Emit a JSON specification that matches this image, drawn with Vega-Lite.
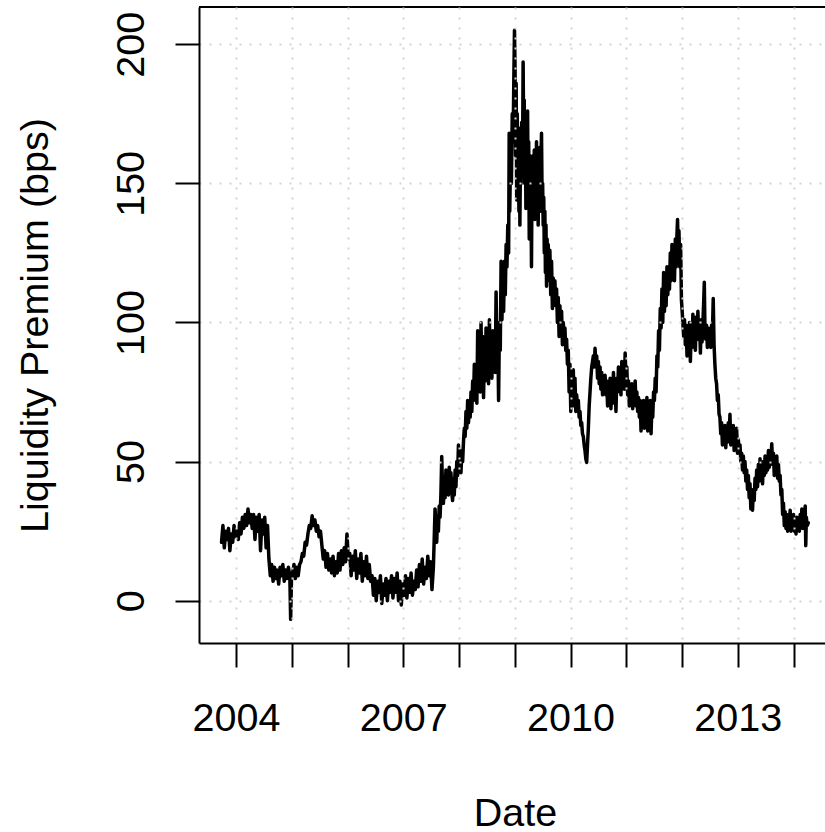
{
  "$schema": "https://vega.github.io/schema/vega-lite/v6.json",
  "width": 626,
  "height": 636,
  "autosize": "none",
  "padding": {"left": 199, "top": 7, "right": 0, "bottom": 189},
  "background": "white",
  "config": {"font": "Liberation Sans", "view": {"stroke": null}},
  "data": {"values": [
    {"t":2003.740,"v":21},{"t":2003.765,"v":27},{"t":2003.790,"v":19},{"t":2003.815,"v":25},{"t":2003.840,"v":22},{"t":2003.865,"v":26},{"t":2003.890,"v":18},{"t":2003.915,"v":24},{"t":2003.940,"v":21},{"t":2003.965,"v":27},{"t":2003.990,"v":23},
    {"t":2004.015,"v":25},{"t":2004.040,"v":22},{"t":2004.065,"v":28},{"t":2004.090,"v":24},{"t":2004.115,"v":30},{"t":2004.140,"v":26},{"t":2004.165,"v":31},{"t":2004.190,"v":27},{"t":2004.215,"v":33},{"t":2004.240,"v":28},{"t":2004.265,"v":31},
    {"t":2004.290,"v":26},{"t":2004.315,"v":31},{"t":2004.340,"v":22},{"t":2004.365,"v":30},{"t":2004.390,"v":25},{"t":2004.415,"v":31},{"t":2004.440,"v":18},{"t":2004.465,"v":29},{"t":2004.490,"v":24},{"t":2004.515,"v":30},{"t":2004.540,"v":19},{"t":2004.565,"v":27},
    {"t":2004.590,"v":15},{"t":2004.615,"v":9},{"t":2004.640,"v":13},{"t":2004.665,"v":7},{"t":2004.690,"v":12},{"t":2004.715,"v":8},{"t":2004.740,"v":11},{"t":2004.765,"v":6},{"t":2004.790,"v":12},{"t":2004.815,"v":9},{"t":2004.840,"v":13},{"t":2004.865,"v":7},{"t":2004.890,"v":11},{"t":2004.915,"v":8},{"t":2004.940,"v":12},{"t":2004.965,"v":9},{"t":2004.980,"v":-6.7},{"t":2004.995,"v":8},
    {"t":2005.015,"v":10},{"t":2005.040,"v":13},{"t":2005.065,"v":8},{"t":2005.090,"v":12},{"t":2005.115,"v":9},{"t":2005.140,"v":13},
    {"t":2005.165,"v":14},{"t":2005.190,"v":17},{"t":2005.215,"v":16},{"t":2005.240,"v":21},{"t":2005.265,"v":20},{"t":2005.290,"v":24},{"t":2005.315,"v":27},{"t":2005.340,"v":26},{"t":2005.365,"v":30.5},
    {"t":2005.390,"v":27},{"t":2005.415,"v":29},{"t":2005.440,"v":25},{"t":2005.465,"v":27},{"t":2005.490,"v":23},{"t":2005.515,"v":25},
    {"t":2005.540,"v":20},{"t":2005.565,"v":15},{"t":2005.590,"v":18},{"t":2005.615,"v":12},{"t":2005.640,"v":17},{"t":2005.665,"v":11},{"t":2005.690,"v":15},{"t":2005.715,"v":10},{"t":2005.740,"v":16},{"t":2005.765,"v":9},{"t":2005.790,"v":14},{"t":2005.815,"v":10},
    {"t":2005.840,"v":17},{"t":2005.865,"v":11},{"t":2005.890,"v":18},{"t":2005.915,"v":13},{"t":2005.940,"v":19},{"t":2005.965,"v":14},{"t":2005.990,"v":24},{"t":2006.015,"v":15},
    {"t":2006.040,"v":17},{"t":2006.065,"v":9},{"t":2006.090,"v":16},{"t":2006.115,"v":11},{"t":2006.140,"v":18},{"t":2006.165,"v":8},{"t":2006.190,"v":15},{"t":2006.215,"v":10},{"t":2006.240,"v":17},{"t":2006.265,"v":7},{"t":2006.290,"v":14},{"t":2006.315,"v":9},{"t":2006.340,"v":16},{"t":2006.365,"v":8},{"t":2006.390,"v":13},{"t":2006.415,"v":7},
    {"t":2006.440,"v":9},{"t":2006.465,"v":2},{"t":2006.490,"v":8},{"t":2006.515,"v":0},{"t":2006.540,"v":7},{"t":2006.565,"v":3},{"t":2006.590,"v":9},{"t":2006.615,"v":-1},{"t":2006.640,"v":6},{"t":2006.665,"v":2},{"t":2006.690,"v":8},{"t":2006.715,"v":0},{"t":2006.740,"v":7},{"t":2006.765,"v":3},{"t":2006.790,"v":9},
    {"t":2006.815,"v":1},{"t":2006.840,"v":8},{"t":2006.865,"v":3},{"t":2006.890,"v":10},{"t":2006.915,"v":0},{"t":2006.940,"v":7},{"t":2006.965,"v":-1.5},{"t":2006.990,"v":6},{"t":2007.015,"v":2},{"t":2007.040,"v":9},{"t":2007.065,"v":1},{"t":2007.090,"v":8},{"t":2007.115,"v":3},{"t":2007.140,"v":10},{"t":2007.165,"v":2},{"t":2007.190,"v":7},
    {"t":2007.215,"v":4},{"t":2007.240,"v":11},{"t":2007.265,"v":5},{"t":2007.290,"v":13},{"t":2007.315,"v":7},{"t":2007.340,"v":15},{"t":2007.365,"v":6},{"t":2007.390,"v":12},{"t":2007.415,"v":8},{"t":2007.440,"v":16},{"t":2007.465,"v":9},{"t":2007.490,"v":14},{"t":2007.515,"v":4},{"t":2007.540,"v":12},
    {"t":2007.555,"v":22},{"t":2007.570,"v":33},{"t":2007.585,"v":28},{"t":2007.600,"v":21},{"t":2007.615,"v":30},{"t":2007.630,"v":25},{"t":2007.645,"v":34},{"t":2007.660,"v":30},{"t":2007.675,"v":38},{"t":2007.690,"v":51.8},{"t":2007.705,"v":40},{"t":2007.720,"v":35},{"t":2007.735,"v":42},{"t":2007.750,"v":37},{"t":2007.765,"v":47},{"t":2007.780,"v":40},{"t":2007.795,"v":45},{"t":2007.810,"v":38},{"t":2007.825,"v":48},{"t":2007.840,"v":42},{"t":2007.855,"v":46},{"t":2007.870,"v":39},
    {"t":2007.885,"v":36},{"t":2007.900,"v":44},{"t":2007.915,"v":38},{"t":2007.930,"v":47},{"t":2007.945,"v":41},{"t":2007.960,"v":50},{"t":2007.975,"v":45},{"t":2007.990,"v":56},{"t":2008.005,"v":48},{"t":2008.020,"v":54},{"t":2008.035,"v":46},{"t":2008.050,"v":53},{"t":2008.065,"v":50},{"t":2008.080,"v":57},{"t":2008.095,"v":62},{"t":2008.110,"v":59},{"t":2008.125,"v":68},{"t":2008.140,"v":62},{"t":2008.155,"v":72},{"t":2008.170,"v":64},{"t":2008.185,"v":70},{"t":2008.200,"v":66},{"t":2008.215,"v":75},{"t":2008.230,"v":68},{"t":2008.245,"v":79},{"t":2008.260,"v":72},{"t":2008.275,"v":85},{"t":2008.290,"v":74},{"t":2008.305,"v":82},{"t":2008.320,"v":71},{"t":2008.335,"v":97},{"t":2008.350,"v":78},{"t":2008.365,"v":88},{"t":2008.380,"v":75},{"t":2008.395,"v":100},{"t":2008.410,"v":80},{"t":2008.425,"v":95},{"t":2008.440,"v":73},{"t":2008.455,"v":90},{"t":2008.470,"v":79},{"t":2008.485,"v":98},{"t":2008.500,"v":82},{"t":2008.515,"v":96},{"t":2008.530,"v":78},{"t":2008.545,"v":101},{"t":2008.560,"v":84},{"t":2008.575,"v":92},{"t":2008.590,"v":80},{"t":2008.605,"v":97},{"t":2008.620,"v":85},{"t":2008.635,"v":94},{"t":2008.650,"v":82},{"t":2008.665,"v":111},{"t":2008.680,"v":88},{"t":2008.695,"v":96},{"t":2008.710,"v":72},{"t":2008.725,"v":100},{"t":2008.740,"v":90},{"t":2008.755,"v":122},{"t":2008.770,"v":101},{"t":2008.785,"v":118},{"t":2008.800,"v":104},{"t":2008.815,"v":122},{"t":2008.830,"v":110},{"t":2008.845,"v":128},{"t":2008.860,"v":120},{"t":2008.875,"v":135},{"t":2008.890,"v":125},{"t":2008.900,"v":168},{"t":2008.910,"v":140},{"t":2008.925,"v":160},{"t":2008.940,"v":150},{"t":2008.955,"v":175},{"t":2008.970,"v":165},{"t":2008.985,"v":190},{"t":2008.995,"v":205},
    {"t":2009.005,"v":192},{"t":2009.015,"v":160},{"t":2009.025,"v":186},{"t":2009.035,"v":144},{"t":2009.045,"v":175},{"t":2009.055,"v":150},{"t":2009.065,"v":170},{"t":2009.075,"v":140},{"t":2009.085,"v":158},{"t":2009.092,"v":135},{"t":2009.105,"v":165},{"t":2009.115,"v":150},{"t":2009.125,"v":172},{"t":2009.140,"v":160},{"t":2009.150,"v":193.6},{"t":2009.160,"v":165},{"t":2009.170,"v":180},{"t":2009.180,"v":150},{"t":2009.190,"v":172},{"t":2009.200,"v":141},{"t":2009.210,"v":168},{"t":2009.220,"v":148},{"t":2009.230,"v":176},{"t":2009.240,"v":145},{"t":2009.250,"v":165},{"t":2009.260,"v":130},{"t":2009.270,"v":160},{"t":2009.280,"v":142},{"t":2009.290,"v":150},{"t":2009.300,"v":120},{"t":2009.310,"v":155},{"t":2009.320,"v":138},{"t":2009.330,"v":160},{"t":2009.340,"v":140},{"t":2009.350,"v":162},{"t":2009.360,"v":137},{"t":2009.370,"v":158},{"t":2009.380,"v":145},{"t":2009.390,"v":165},{"t":2009.400,"v":140},{"t":2009.410,"v":155},{"t":2009.420,"v":135},{"t":2009.430,"v":160},{"t":2009.440,"v":148},{"t":2009.450,"v":163},{"t":2009.460,"v":140},{"t":2009.470,"v":158},{"t":2009.480,"v":168},{"t":2009.490,"v":145},{"t":2009.500,"v":150},{"t":2009.510,"v":135},{"t":2009.520,"v":145},{"t":2009.530,"v":125},{"t":2009.540,"v":140},{"t":2009.550,"v":118},{"t":2009.560,"v":135},{"t":2009.570,"v":113},{"t":2009.580,"v":130},{"t":2009.590,"v":115},{"t":2009.600,"v":128},{"t":2009.615,"v":118},{"t":2009.630,"v":126},{"t":2009.645,"v":110},{"t":2009.660,"v":122},{"t":2009.675,"v":105},{"t":2009.690,"v":116},{"t":2009.705,"v":108},{"t":2009.720,"v":115},{"t":2009.735,"v":106},{"t":2009.750,"v":112},{"t":2009.765,"v":100},{"t":2009.780,"v":109},{"t":2009.795,"v":95},{"t":2009.810,"v":106},{"t":2009.825,"v":96},{"t":2009.840,"v":104},{"t":2009.855,"v":92},{"t":2009.870,"v":100},{"t":2009.885,"v":95},{"t":2009.900,"v":98},{"t":2009.915,"v":90},{"t":2009.930,"v":94},{"t":2009.945,"v":85},{"t":2009.960,"v":90},{"t":2009.975,"v":75},{"t":2009.990,"v":85},
    {"t":2010.005,"v":68},{"t":2010.020,"v":80},{"t":2010.035,"v":72},{"t":2010.050,"v":83},{"t":2010.065,"v":70},{"t":2010.080,"v":80},{"t":2010.095,"v":68},{"t":2010.110,"v":74},{"t":2010.125,"v":70},{"t":2010.140,"v":72},{"t":2010.155,"v":66},{"t":2010.170,"v":68},{"t":2010.185,"v":63},{"t":2010.200,"v":64},{"t":2010.215,"v":60},{"t":2010.230,"v":59},{"t":2010.245,"v":56},{"t":2010.260,"v":54},{"t":2010.275,"v":51},{"t":2010.290,"v":49.7},{"t":2010.305,"v":56},{"t":2010.320,"v":62},{"t":2010.335,"v":70},{"t":2010.350,"v":75},{"t":2010.365,"v":80},{"t":2010.380,"v":84},{"t":2010.395,"v":86},{"t":2010.410,"v":88},{"t":2010.425,"v":84},{"t":2010.440,"v":90.7},{"t":2010.455,"v":85},{"t":2010.470,"v":88},{"t":2010.485,"v":80},{"t":2010.500,"v":86},{"t":2010.515,"v":78},{"t":2010.530,"v":84},{"t":2010.545,"v":76},{"t":2010.560,"v":82},{"t":2010.575,"v":74},{"t":2010.590,"v":80},{"t":2010.605,"v":76},{"t":2010.620,"v":81},{"t":2010.635,"v":74},{"t":2010.650,"v":79},{"t":2010.665,"v":70},{"t":2010.680,"v":78},{"t":2010.695,"v":72},{"t":2010.710,"v":80},{"t":2010.725,"v":69},{"t":2010.740,"v":76},{"t":2010.755,"v":71},{"t":2010.770,"v":82},{"t":2010.785,"v":73},{"t":2010.800,"v":78},{"t":2010.815,"v":68},{"t":2010.830,"v":80},{"t":2010.845,"v":75},{"t":2010.860,"v":84},{"t":2010.875,"v":76},{"t":2010.890,"v":82},{"t":2010.905,"v":74},{"t":2010.920,"v":86},{"t":2010.935,"v":78},{"t":2010.950,"v":84},{"t":2010.965,"v":76},{"t":2010.980,"v":89},{"t":2010.995,"v":80},
    {"t":2011.010,"v":84},{"t":2011.025,"v":74},{"t":2011.040,"v":79},{"t":2011.055,"v":70},{"t":2011.070,"v":77},{"t":2011.085,"v":72},{"t":2011.100,"v":78},{"t":2011.115,"v":69},{"t":2011.130,"v":76},{"t":2011.145,"v":71},{"t":2011.160,"v":79},{"t":2011.175,"v":70},{"t":2011.190,"v":75},{"t":2011.205,"v":68},{"t":2011.220,"v":73},{"t":2011.235,"v":66},{"t":2011.250,"v":72},{"t":2011.265,"v":61},{"t":2011.280,"v":70},{"t":2011.295,"v":64},{"t":2011.310,"v":72},{"t":2011.325,"v":62},{"t":2011.340,"v":68},{"t":2011.355,"v":63},{"t":2011.370,"v":73},{"t":2011.385,"v":61},{"t":2011.400,"v":70},{"t":2011.415,"v":65},{"t":2011.430,"v":72},{"t":2011.445,"v":60},{"t":2011.460,"v":70},{"t":2011.475,"v":66},{"t":2011.490,"v":75},{"t":2011.505,"v":72},{"t":2011.520,"v":80},{"t":2011.535,"v":75},{"t":2011.550,"v":88},{"t":2011.565,"v":84},{"t":2011.580,"v":97},{"t":2011.595,"v":90},{"t":2011.610,"v":105},{"t":2011.625,"v":98},{"t":2011.640,"v":112},{"t":2011.655,"v":100},{"t":2011.670,"v":118},{"t":2011.685,"v":104},{"t":2011.700,"v":115},{"t":2011.715,"v":106},{"t":2011.730,"v":120},{"t":2011.745,"v":110},{"t":2011.760,"v":118},{"t":2011.775,"v":112},{"t":2011.790,"v":125},{"t":2011.805,"v":115},{"t":2011.820,"v":128},{"t":2011.835,"v":118},{"t":2011.850,"v":126},{"t":2011.865,"v":115},{"t":2011.880,"v":130},{"t":2011.895,"v":120},{"t":2011.910,"v":132},{"t":2011.920,"v":137},{"t":2011.930,"v":128},{"t":2011.945,"v":133},{"t":2011.960,"v":120},{"t":2011.975,"v":128},{"t":2011.990,"v":108},
    {"t":2012.000,"v":105},{"t":2012.015,"v":100},{"t":2012.030,"v":95},{"t":2012.045,"v":101},{"t":2012.060,"v":92},{"t":2012.075,"v":99},{"t":2012.090,"v":88},{"t":2012.105,"v":98},{"t":2012.120,"v":92},{"t":2012.135,"v":100},{"t":2012.150,"v":86},{"t":2012.165,"v":97},{"t":2012.180,"v":91},{"t":2012.195,"v":103},{"t":2012.210,"v":92},{"t":2012.225,"v":99},{"t":2012.240,"v":90},{"t":2012.255,"v":102},{"t":2012.270,"v":94},{"t":2012.285,"v":104},{"t":2012.300,"v":95},{"t":2012.315,"v":100},{"t":2012.330,"v":89},{"t":2012.345,"v":101},{"t":2012.360,"v":93},{"t":2012.375,"v":100},{"t":2012.390,"v":108},{"t":2012.400,"v":114.5},{"t":2012.410,"v":100},{"t":2012.425,"v":94},{"t":2012.440,"v":99},{"t":2012.455,"v":91},{"t":2012.470,"v":98},{"t":2012.485,"v":92},{"t":2012.500,"v":97},{"t":2012.515,"v":91},{"t":2012.530,"v":99},{"t":2012.545,"v":95},{"t":2012.560,"v":108.6},{"t":2012.575,"v":92},{"t":2012.590,"v":85},{"t":2012.605,"v":80},{"t":2012.620,"v":78},{"t":2012.635,"v":72},{"t":2012.650,"v":74},{"t":2012.665,"v":67},{"t":2012.680,"v":66},{"t":2012.695,"v":60},{"t":2012.710,"v":64},{"t":2012.725,"v":56},{"t":2012.740,"v":62},{"t":2012.755,"v":57},{"t":2012.770,"v":63},{"t":2012.785,"v":55},{"t":2012.800,"v":61},{"t":2012.815,"v":57},{"t":2012.830,"v":64},{"t":2012.845,"v":58},{"t":2012.860,"v":67},{"t":2012.875,"v":56},{"t":2012.890,"v":62},{"t":2012.905,"v":57},{"t":2012.920,"v":63},{"t":2012.935,"v":54},{"t":2012.950,"v":60},{"t":2012.965,"v":55},{"t":2012.980,"v":62},{"t":2012.995,"v":53},
    {"t":2013.010,"v":58},{"t":2013.025,"v":54},{"t":2013.040,"v":56},{"t":2013.055,"v":50},{"t":2013.070,"v":53},{"t":2013.085,"v":47},{"t":2013.100,"v":52},{"t":2013.115,"v":46},{"t":2013.130,"v":50},{"t":2013.145,"v":43},{"t":2013.160,"v":47},{"t":2013.175,"v":40},{"t":2013.190,"v":45},{"t":2013.205,"v":37},{"t":2013.220,"v":42},{"t":2013.235,"v":33},{"t":2013.250,"v":39},{"t":2013.265,"v":32.5},{"t":2013.280,"v":40},{"t":2013.295,"v":36},{"t":2013.310,"v":44},{"t":2013.325,"v":40},{"t":2013.340,"v":47},{"t":2013.355,"v":41},{"t":2013.370,"v":49},{"t":2013.385,"v":43},{"t":2013.400,"v":51},{"t":2013.415,"v":44},{"t":2013.430,"v":49},{"t":2013.445,"v":42},{"t":2013.460,"v":50},{"t":2013.475,"v":45},{"t":2013.490,"v":52},{"t":2013.505,"v":46},{"t":2013.520,"v":50},{"t":2013.535,"v":47},{"t":2013.550,"v":54},{"t":2013.565,"v":48},{"t":2013.580,"v":52},{"t":2013.595,"v":50},{"t":2013.610,"v":56.4},{"t":2013.625,"v":49},{"t":2013.640,"v":53},{"t":2013.655,"v":45},{"t":2013.670,"v":51},{"t":2013.685,"v":47},{"t":2013.700,"v":52},{"t":2013.715,"v":44},{"t":2013.730,"v":49},{"t":2013.745,"v":43},{"t":2013.760,"v":45},{"t":2013.775,"v":38},{"t":2013.790,"v":40},{"t":2013.805,"v":31},{"t":2013.820,"v":35},{"t":2013.835,"v":27},{"t":2013.850,"v":32},{"t":2013.865,"v":26},{"t":2013.880,"v":31},{"t":2013.895,"v":25},{"t":2013.910,"v":30},{"t":2013.925,"v":27},{"t":2013.940,"v":32.5},{"t":2013.955,"v":25},{"t":2013.970,"v":29},{"t":2013.985,"v":26},
    {"t":2014.000,"v":31},{"t":2014.015,"v":25},{"t":2014.030,"v":28},{"t":2014.045,"v":24},{"t":2014.060,"v":30},{"t":2014.075,"v":26},{"t":2014.090,"v":29},{"t":2014.105,"v":25},{"t":2014.120,"v":31},{"t":2014.135,"v":27},{"t":2014.150,"v":33},{"t":2014.165,"v":26},{"t":2014.180,"v":30},{"t":2014.195,"v":28},{"t":2014.210,"v":34},{"t":2014.220,"v":19.8},{"t":2014.230,"v":30},{"t":2014.245,"v":27},{"t":2014.265,"v":28}
  ]},
  "layer": [
    {
      "mark": {"type": "line", "color": "black", "strokeWidth": 3.5, "strokeJoin": "round", "strokeCap": "round"},
      "encoding": {
        "x": {
          "field": "t", "type": "quantitative",
          "scale": {"domain": [2003.336, 2014.565], "nice": false, "zero": false},
          "axis": {
            "values": [2004, 2005, 2006, 2007, 2008, 2009, 2010, 2011, 2012, 2013, 2014],
            "labelExpr": "datum.value % 3 == 0 ? format(datum.value, 'd') : ''",
            "labelFontSize": 39.5, "labelColor": "black", "labelBaseline": "top", "labelPadding": 32,
            "labelOverlap": false, "labelFlush": false,
            "tickSize": 24, "tickWidth": 2, "tickColor": "black",
            "domainColor": "black", "domainWidth": 2,
            "grid": true, "gridColor": "#d3d3d3", "gridDash": [2, 8], "gridWidth": 2,
            "title": "Date", "titleFontSize": 39.5, "titleFontWeight": "normal", "titleColor": "black",
            "titleX": 316, "titleY": 151, "titleAlign": "center", "titleBaseline": "top",
            "zindex": 1
          }
        },
        "y": {
          "field": "v", "type": "quantitative",
          "scale": {"domain": [-15.2, 213.4], "nice": false, "zero": false},
          "axis": {
            "values": [0, 50, 100, 150, 200],
            "labelAngle": -90, "labelAlign": "center", "labelBaseline": "alphabetic", "labelPadding": 32,
            "labelFontSize": 39.5, "labelColor": "black", "labelOverlap": false, "labelFlush": false,
            "tickSize": 24, "tickWidth": 2, "tickColor": "black",
            "domainColor": "black", "domainWidth": 2,
            "grid": true, "gridColor": "#d3d3d3", "gridDash": [2, 8], "gridWidth": 2,
            "title": "Liquidity Premium (bps)", "titleFontSize": 39.5, "titleFontWeight": "normal", "titleColor": "black",
            "titleAngle": -90, "titleX": -152, "titleY": 318, "titleAlign": "center", "titleBaseline": "alphabetic",
            "zindex": 1
          }
        }
      }
    },
    {
      "mark": {"type": "rule", "color": "black", "strokeWidth": 2},
      "encoding": {"y": {"datum": 213.4, "type": "quantitative"}}
    }
  ]
}
